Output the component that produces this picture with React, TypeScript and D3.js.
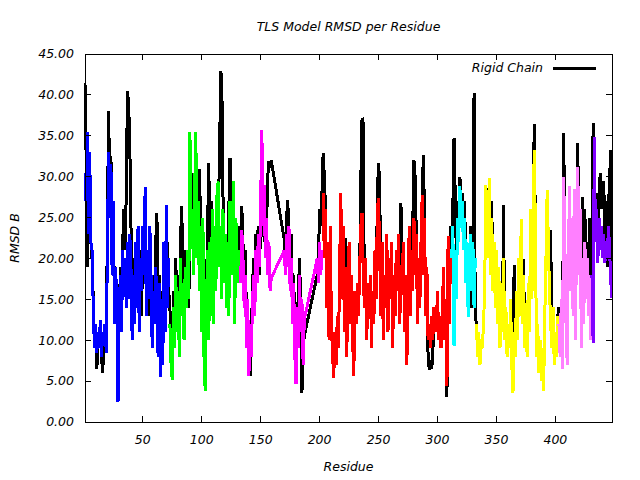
import React from "react";
import * as d3 from "d3";

// ---------- data ----------
const title = "TLS Model RMSD per Residue";
const xLabel = "Residue";
const yLabel = "RMSD B";
const legendLabel = "Rigid Chain";

const xTickValues = [50, 100, 150, 200, 250, 300, 350, 400];
const yTickValues = [0, 5, 10, 15, 20, 25, 30, 35, 40, 45];

// residue ranges absent from the model
const missingRanges = [
  [160, 169],
  [188, 197],
];

// TLS group residue ranges and colours
const groupRanges = [
  [1, 72],
  [73, 132],
  [133, 202],
  [203, 311],
  [312, 332],
  [333, 402],
  [403, 430],
  [431, 448],
];
const groupColors = ["#0000ff", "#00ff00", "#ff00ff", "#ff0000", "#00ffff", "#ffff00", "#ff80ff", "#8000ff"];

// TLS model RMSD values per group
const tlsBlue = [
  27, 31, 35.5, 23, 33, 22, 21, 14, 9, 12,
  8.5, 11, 9, 12.5, 8, 11, 10, 12, 8.5, 21,
  33, 25, 31.5, 18, 27, 12, 19, 14, 2.5, 13,
  18, 11, 21, 16, 20, 14, 22, 15, 23, 19,
  10, 18, 12, 22, 14, 24, 11, 20, 16, 24,
  18, 28.7, 13, 21, 15, 24, 18, 9, 16, 12,
  19, 14, 8, 17, 5.5, 15, 7, 22, 11, 26.5,
  14, 20,
];
const tlsGreen = [
  12, 7, 5.2, 14, 9, 18, 11, 16, 8, 20,
  13, 17, 10, 19, 14, 21, 15, 35.5, 22, 26,
  18, 28, 35.5, 20, 27, 16, 24, 11, 25, 7,
  3.75, 14, 21, 10, 22, 13, 26, 12, 24, 16,
  28, 29.4, 19, 24, 15, 26, 17, 23, 14, 22,
  13, 27, 18, 24, 29.5, 12, 25, 17, 21, 19,
];
const tlsMagenta = [
  17, 23.5, 20, 14, 18, 9, 15, 5.6, 12, 8,
  14, 18, 13, 21, 17, 23, 19, 27, 35.7, 24,
  29, 20, 25, 18, 22, 16, 17.6,
  21, 18, 23, 19, 24, 16, 20, 12, 17, 8,
  4.6, 14, 9, 18, 11, 15, 7, 12.5,
  20, 17, 22, 18, 21,
];
const tlsRed = [
  28, 20, 26, 14, 22, 10, 24, 12, 8, 5.4,
  11, 7, 13, 9, 19, 28, 15, 24, 11, 19,
  8, 15, 22, 12, 18, 10, 5.6, 16, 12, 17,
  13, 19, 24, 25.6, 18, 14, 20, 10, 17, 13,
  18, 9, 16, 12, 21, 15, 26, 27.4, 20, 13,
  22, 10, 18, 14, 23, 11, 20, 15, 22, 9,
  18, 13, 21, 16, 23, 12, 19, 17, 22, 11,
  18, 7, 15, 24, 13, 21, 16, 25, 19, 23,
  12, 20, 14, 22, 27.7, 18, 25, 13, 19, 10,
  12, 9, 13, 10, 14, 11, 12, 16, 10, 13,
  9, 12, 19, 10, 15, 4.4, 22.8, 12, 20,
];
const tlsCyan = [
  20, 24, 9.3, 21, 15, 25, 22, 28.8, 24, 27,
  21, 25, 17, 22, 12.9, 19, 23, 16, 22, 14, 20,
];
const tlsYellow = [
  12, 8, 11, 7, 10, 9, 12, 16, 29, 24,
  20, 29.8, 18, 25, 16, 22, 14, 21, 12, 19,
  9, 17, 11, 20, 10, 14, 8, 12, 9, 15,
  7, 3.5, 11, 8, 16, 10, 20, 13, 24.8, 12,
  18, 9, 14, 8, 17, 11, 26, 15, 22, 33.3,
  24, 8, 12, 6, 10, 5, 9, 3.75, 13, 20,
  28.4, 22, 16, 12, 9, 14, 7, 11, 8, 13,
];
const tlsPink = [
  12, 8, 15, 6.5, 30, 22, 12, 7, 20, 28.8,
  16, 25, 13, 28.5, 10, 24, 31.2, 18, 26, 9,
  20, 12, 22, 15, 20, 13, 18, 10,
];
const tlsPurple = [
  18, 9.7, 34.9, 22, 26, 19.5, 25, 21, 24, 20,
  23, 19.5, 22, 20, 24, 21, 17, 15.2,
];

// Rigid chain RMSD values, split by the same residue ranges
const rigidBlue = [
  41.5, 32, 19, 28, 32, 22, 20, 15, 10, 12,
  6.5, 9, 10, 12, 8, 6, 9.5, 11, 8.5, 24,
  38, 29, 32.5, 22, 27, 14, 17, 16, 9, 12,
  19, 14, 22, 26, 21, 28, 40.5, 39, 34, 24,
  15, 16, 20, 18, 14, 22, 17, 21, 13, 22,
  24, 23, 16, 18, 13, 22, 16, 12, 18, 14,
  22, 25.5, 12, 18, 8, 16, 11, 20, 14, 17,
  22, 16,
];
const rigidGreen = [
  14, 10, 8, 16, 12, 20, 13, 18, 10, 22,
  26.4, 19, 11, 21, 16, 20, 14, 24, 28, 30.5,
  22, 25, 29, 26, 22, 30.9, 25, 14, 23, 10,
  6, 16, 24, 31.7, 20, 27, 24, 15, 22, 19,
  26, 29, 30, 42.9, 42.3, 28, 20, 21, 16, 20,
  26, 32.3, 22, 26, 28, 15, 23, 20, 24, 21,
];
const rigidMagenta = [
  19, 26.4, 22, 17, 21, 12, 14, 8, 5.6, 10,
  16, 20, 15, 23, 22, 24, 18, 25, 28, 26,
  22, 29, 24, 30, 31.9, 31.5, 32,
  22.3, 20, 25, 27.1, 22, 19, 23, 15, 18, 11,
  8, 12, 16, 20, 14, 3.5, 9, 10.5,
  18, 20, 26, 24, 28,
];
const rigidRed = [
  32.9, 30, 26, 14, 22, 10, 24, 12, 8, 5.4,
  11, 7, 13, 9, 19, 28, 15, 24, 11, 22.5,
  8, 15, 22, 12, 18, 10, 5.6, 16, 12, 17,
  13, 19, 30, 37.2, 36.5, 14, 20, 10, 17, 13,
  18, 9, 16, 12, 21, 15, 28, 31.7, 29, 13,
  22, 10, 18, 14, 23, 11, 20, 15, 22, 9,
  18, 13, 21, 16, 23, 12, 26.8, 17, 22, 11,
  18, 7, 15, 24, 13, 21, 24, 32, 30, 23,
  12, 20, 14, 22, 27.7, 32.6, 25, 13, 19, 8,
  6.4, 7, 6.5, 8, 14, 11, 12, 16, 10, 13,
  9, 12, 19, 10, 15, 3.1, 22.8, 12, 24,
];
const rigidCyan = [
  22, 26, 34.7, 28, 20, 27, 24, 30, 26, 28,
  25, 27, 19, 21, 15, 18, 24, 14, 20, 40.2, 13,
];
const rigidYellow = [
  12, 10, 11, 7, 10, 9, 12, 16, 29, 26,
  20, 29.8, 18, 27, 16, 22, 14, 21, 12, 19,
  9, 17, 11, 26.5, 10, 14, 8, 12, 9, 15,
  7, 6, 19.2, 8, 16, 10, 20, 13, 24.8, 12,
  19.9, 9, 14, 8, 17, 11, 26, 15, 22, 36.4,
  24, 8, 12, 6, 10, 5, 9, 3.75, 13, 20,
  28.4, 22, 16, 23.5, 9, 14, 7, 11, 8, 13,
];
const rigidPink = [
  14, 8, 15, 6.5, 35.3, 22, 12, 7, 20, 28.8,
  16, 25, 13, 28.5, 10, 24, 34.1, 18, 26, 9,
  27.5, 12, 26, 15, 22, 17, 25, 12,
];
const rigidPurple = [
  20, 36.5, 30, 24, 28, 22, 27, 30.5, 26, 28,
  29.5, 22, 27, 19, 26, 30, 33.3, 17,
];

const tlsValues = [tlsBlue, tlsGreen, tlsMagenta, tlsRed, tlsCyan, tlsYellow, tlsPink, tlsPurple];
const rigidValues = [rigidBlue, rigidGreen, rigidMagenta, rigidRed, rigidCyan, rigidYellow, rigidPink, rigidPurple];

// ---------- layout ----------
const W = 640;
const H = 480;
const M = { left: 85, right: 612, top: 54, bottom: 422 };
const FONT = "'DejaVu Sans', 'Liberation Sans', sans-serif";

type Pt = { r: number; v: number };

const isMissing = (r: number) => missingRanges.some(([a, b]) => r >= a && r <= b);

function groupResidues(i: number): number[] {
  const [a, b] = groupRanges[i];
  return d3.range(a, b + 1).filter((r) => !isMissing(r));
}

export default function App() {
  const x = d3.scaleLinear().domain([1, 448]).range([M.left, M.right]);
  const y = d3.scaleLinear().domain([0, 45]).range([M.bottom, M.top]);

  const groups = groupRanges.map((_, i) => {
    const res = groupResidues(i);
    const tls: Pt[] = res.map((r, k) => ({ r, v: tlsValues[i][k] })).filter((p) => p.v !== undefined);
    const rigid: Pt[] = res.map((r, k) => ({ r, v: rigidValues[i][k] })).filter((p) => p.v !== undefined);
    return { tls, rigid, color: groupColors[i] };
  });
  const rigidAll: Pt[] = groups.flatMap((g) => g.rigid);

  const line = d3
    .line<Pt>()
    .x((d) => x(d.r))
    .y((d) => y(d.v));

  const tickLen = 6;
  const textStyle: React.CSSProperties = { fontFamily: FONT, fontStyle: "italic", fontSize: 12.5 };

  return (
    <svg
      width={W}
      height={H}
      viewBox={`0 0 ${W} ${H}`}
      style={{ position: "absolute", left: 0, top: 0, display: "block", background: "#fff" }}
    >
      <rect x={0} y={0} width={W} height={H} fill="#fff" />

      {/* rigid chain line */}
      <path
        d={line(rigidAll) || ""}
        fill="none"
        stroke="#000"
        strokeWidth={3}
        strokeLinejoin="miter"
        shapeRendering="crispEdges"
      />
      {/* TLS groups */}
      {groups.map((g, i) => (
        <path
          key={i}
          d={line(g.tls) || ""}
          fill="none"
          stroke={g.color}
          strokeWidth={3}
          strokeLinejoin="miter"
          shapeRendering="crispEdges"
        />
      ))}

      {/* frame */}
      <rect
        x={M.left}
        y={M.top}
        width={M.right - M.left}
        height={M.bottom - M.top}
        fill="none"
        stroke="#000"
        strokeWidth={1}
        shapeRendering="crispEdges"
      />

      {/* y ticks */}
      {yTickValues.map((t) => (
        <g key={"y" + t}>
          <line x1={M.left} x2={M.left + tickLen} y1={y(t)} y2={y(t)} stroke="#000" shapeRendering="crispEdges" />
          <line x1={M.right} x2={M.right - tickLen} y1={y(t)} y2={y(t)} stroke="#000" shapeRendering="crispEdges" />
          <text x={M.left - 11} y={y(t)} dy="0.35em" textAnchor="end" style={textStyle}>
            {t.toFixed(2)}
          </text>
        </g>
      ))}

      {/* x ticks */}
      {xTickValues.map((t) => (
        <g key={"x" + t}>
          <line x1={x(t)} x2={x(t)} y1={M.bottom} y2={M.bottom - tickLen} stroke="#000" shapeRendering="crispEdges" />
          <line x1={x(t)} x2={x(t)} y1={M.top} y2={M.top + tickLen} stroke="#000" shapeRendering="crispEdges" />
          <text x={x(t)} y={M.bottom + 18} dy="0.35em" textAnchor="middle" style={textStyle}>
            {t}
          </text>
        </g>
      ))}

      {/* titles */}
      <text x={(M.left + M.right) / 2} y={27} dy="0.35em" textAnchor="middle" style={textStyle}>
        {title}
      </text>
      <text x={(M.left + M.right) / 2} y={467} dy="0.35em" textAnchor="middle" style={textStyle}>
        {xLabel}
      </text>
      <text
        transform={`translate(15, ${(M.top + M.bottom) / 2}) rotate(-90)`}
        dy="0.35em"
        textAnchor="middle"
        style={textStyle}
      >
        {yLabel}
      </text>

      {/* legend */}
      <text x={543} y={68} dy="0.35em" textAnchor="end" style={textStyle}>
        {legendLabel}
      </text>
      <line x1={553} x2={596} y1={68} y2={68} stroke="#000" strokeWidth={3} shapeRendering="crispEdges" />
    </svg>
  );
}
